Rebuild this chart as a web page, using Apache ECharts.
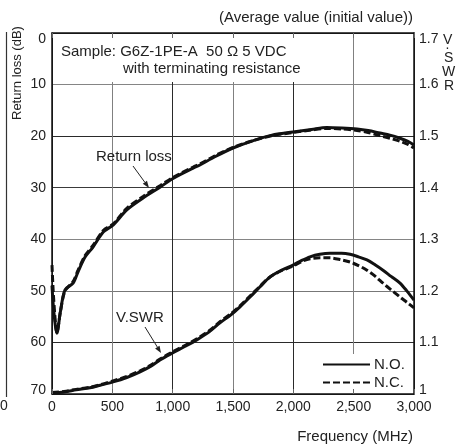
<!DOCTYPE html>
<html>
<head>
<meta charset="utf-8">
<script src="https://cdn.jsdelivr.net/npm/echarts@6/dist/echarts.min.js"></script>
<style>
html,body{margin:0;padding:0;background:#fff;}
#c{width:461px;height:444px;}
</style>
</head>
<body>
<div id="c"></div>
<script>
// ---- data ----
const freqRL = [0,15,41,70,108,175,216,273,340,425,508,620,755,895,1003,1170,1226,1350,1500,1650,1823,1997,2150,2277,2400,2528,2620,2718,2800,2884,2950,3000];
const rlNO   = [49,54,58.2,54,49.8,48.5,46.3,43.5,41.5,38.6,37.2,34.3,32,29.9,28.2,26.2,25.6,24,22.3,21,19.8,19.2,18.7,18.3,18.4,18.6,18.9,19.4,19.8,20.4,21,21.7];
const rlNC   = [45,52,58,54,50,48.2,46,43.2,41.2,38.3,37,34,31.7,29.6,28,26,25.4,23.8,22.2,21,19.9,19.3,18.8,18.5,18.6,18.9,19.3,19.9,20.4,21,21.6,22.3];

const freqVS = [0,100,200,315,400,500,620,730,820,895,1003,1100,1200,1300,1392,1480,1558,1641,1720,1807,1900,1997,2070,2138,2220,2304,2400,2470,2540,2610,2680,2743,2810,2884,2940,3000];
const vsNO   = [1.002,1.004,1.008,1.012,1.017,1.023,1.032,1.043,1.054,1.066,1.08,1.092,1.105,1.12,1.138,1.153,1.169,1.188,1.207,1.227,1.24,1.25,1.259,1.266,1.271,1.273,1.273,1.271,1.266,1.26,1.25,1.24,1.228,1.215,1.2,1.182];
const vsNC   = [1.003,1.005,1.009,1.013,1.018,1.025,1.034,1.045,1.056,1.068,1.082,1.094,1.107,1.122,1.14,1.155,1.171,1.19,1.208,1.227,1.239,1.248,1.257,1.262,1.264,1.264,1.26,1.256,1.249,1.24,1.228,1.215,1.202,1.188,1.178,1.167];

const xTicks = [0,500,1000,1500,2000,2500,3000];
const rlTicks = [0,10,20,30,40,50,60,70];
const vsTicks = [1,1.1,1.2,1.3,1.4,1.5,1.6,1.7];

const pair = (xs, ys) => xs.map((x, i) => [x, ys[i]]);

const FONT = 'Liberation Sans, Arial, Helvetica, sans-serif';
const TXT = '#222';
const GRID = '#5a5a5a';

function arrow(x1, y1, x2, y2) {
  const a = Math.atan2(y2 - y1, x2 - x1);
  const L = 7, W = 2.6;
  const bx = x2 - L * Math.cos(a), by = y2 - L * Math.sin(a);
  const px = -Math.sin(a) * W, py = Math.cos(a) * W;
  return [
    { type: 'line', z: 20, shape: { x1, y1, x2: bx, y2: by }, style: { stroke: '#222', lineWidth: 1 } },
    { type: 'polygon', z: 20, shape: { points: [[x2, y2], [bx + px, by + py], [bx - px, by - py]] }, style: { fill: '#222' } }
  ];
}

const edgeRich = {
  top: { padding: [12, 0, 0, 0], fontSize: 14, color: TXT, fontFamily: FONT },
  bot: { padding: [0, 0, 8, 0], fontSize: 14, color: TXT, fontFamily: FONT }
};

// stacked letters of the right axis title
const vswrLetters = [['V', 443, 33], ['.', 445.5, 38], ['S', 444, 51], ['W', 442, 65], ['R', 444, 79]];

const chart = echarts.init(document.getElementById('c'), null, { renderer: 'canvas' });

const baseX = { type: 'value', min: 0, max: 3000, interval: 500 };

chart.setOption({
  animation: false,
  backgroundColor: '#fff',
  textStyle: { fontFamily: FONT },
  grid: { left: 52, right: 47, top: 33, bottom: 50, containLabel: false },
  xAxis: [
    Object.assign({}, baseX, {
      position: 'bottom', z: 0,
      axisLine: { show: false }, axisTick: { show: false }, axisLabel: { show: false },
      splitLine: { show: true, lineStyle: { color: ['#2a2a2a', '#808080'], width: 1 } }
    }),
    Object.assign({}, baseX, {
      position: 'bottom', z: 10,
      axisLine: { show: true, onZero: false, lineStyle: { color: '#111', width: 1.5 } },
      axisTick: { show: true, inside: true, length: 5, lineStyle: { color: '#666', width: 1 } },
      axisLabel: { show: true, margin: 6, color: TXT, fontSize: 14, fontFamily: FONT,
        formatter: v => xTicks.indexOf(v) >= 0 ? v.toLocaleString('en-US') : '' },
      splitLine: { show: false }
    }),
    Object.assign({}, baseX, {
      position: 'top', z: 10,
      axisLine: { show: true, onZero: false, lineStyle: { color: '#111', width: 1.5 } },
      axisTick: { show: true, inside: true, length: 5, lineStyle: { color: '#666', width: 1 } },
      axisLabel: { show: false }, splitLine: { show: false }
    })
  ],
  yAxis: [
    {
      type: 'value', min: 0, max: 70, interval: 10, inverse: true, position: 'left', z: 0,
      axisLine: { show: true, onZero: false, lineStyle: { color: '#111', width: 1.5 } },
      axisTick: { show: false },
      axisLabel: { margin: 6, color: TXT, fontSize: 14, fontFamily: FONT, rich: edgeRich,
        formatter: v => {
          if (rlTicks.indexOf(v) < 0) return '';
          if (v === 0) return '{top|0}';
          if (v === 70) return '{bot|70}';
          return String(v);
        } },
      splitLine: { show: true, lineStyle: { color: ['#2a2a2a', '#858585', '#2a2a2a', '#3a3a3a', '#858585', '#777', '#2a2a2a', '#2a2a2a'], width: 1 } }
    },
    {
      type: 'value', min: 1, max: 1.7, interval: 0.1, position: 'right', z: 10,
      axisLine: { show: true, onZero: false, lineStyle: { color: '#111', width: 1.5 } },
      axisTick: { show: false },
      axisLabel: { margin: 5, color: TXT, fontSize: 14, fontFamily: FONT, rich: edgeRich,
        formatter: v => {
          const r = Math.round(v * 10) / 10;
          if (vsTicks.indexOf(r) < 0) return '';
          if (r === 1) return '{bot|1}';
          if (r === 1.7) return '{top|1.7}';
          return r.toFixed(1);
        } },
      splitLine: { show: false }
    }
  ],
  legend: {
    data: ['N.O.', 'N.C.'],
    orient: 'vertical',
    left: 318, top: 354,
    backgroundColor: '#fff',
    padding: [3, 4, 3, 4],
    itemWidth: 47, itemHeight: 14, itemGap: 3,
    itemStyle: { opacity: 0 },
    textStyle: { color: TXT, fontSize: 15, fontFamily: FONT, padding: [0, 0, 0, -1] },
    z: 4
  },
  series: [
    { name: 'N.C.', type: 'line', xAxisIndex: 0, yAxisIndex: 0, data: pair(freqRL, rlNC), showSymbol: false, symbol: 'none', smooth: 0.3,
      lineStyle: { color: '#111', width: 3, type: [7, 3] }, itemStyle: { color: '#111' }, z: 2 },
    { name: 'N.O.', type: 'line', xAxisIndex: 0, yAxisIndex: 0, data: pair(freqRL, rlNO), showSymbol: false, symbol: 'none', smooth: 0.3,
      lineStyle: { color: '#111', width: 3, type: 'solid' }, itemStyle: { color: '#111' }, z: 3 },
    { name: 'N.C.', type: 'line', xAxisIndex: 0, yAxisIndex: 1, data: pair(freqVS, vsNC), showSymbol: false, symbol: 'none', smooth: 0.3,
      lineStyle: { color: '#111', width: 3, type: [7, 3] }, itemStyle: { color: '#111' }, z: 2 },
    { name: 'N.O.', type: 'line', xAxisIndex: 0, yAxisIndex: 1, data: pair(freqVS, vsNO), showSymbol: false, symbol: 'none', smooth: 0.3,
      lineStyle: { color: '#111', width: 3, type: 'solid' }, itemStyle: { color: '#111' }, z: 3 }
  ],
  graphic: [
    // white box behind the sample note
    { type: 'rect', z: 1, shape: { x: 53.5, y: 34.5, width: 266, height: 47.5 }, style: { fill: '#fff' } },
    { type: 'text', z: 20, left: 61, top: 44, style: { text: 'Sample: G6Z-1PE-A  50 Ω 5 VDC', fill: TXT, font: '15px ' + FONT } },
    { type: 'text', z: 20, left: 123, top: 61, style: { text: 'with terminating resistance', fill: TXT, font: '15px ' + FONT } },
    { type: 'text', z: 20, right: 48, top: 10, style: { text: '(Average value (initial value))', fill: TXT, font: '15px ' + FONT } },
    { type: 'text', z: 20, x: 11, y: 120, rotation: Math.PI / 2,
      style: { text: 'Return loss (dB)', fill: TXT, font: '13px ' + FONT, textAlign: 'left', textVerticalAlign: 'top' } },
    ...vswrLetters.map(([t, x, y]) => ({ type: 'text', z: 20, x, y, style: { text: t, fill: TXT, font: '14px ' + FONT } })),
    { type: 'text', z: 20, right: 48, top: 429, style: { text: 'Frequency (MHz)', fill: TXT, font: '15px ' + FONT } },
    { type: 'text', z: 20, left: 96, top: 149, style: { text: 'Return loss', fill: TXT, font: '15px ' + FONT } },
    ...arrow(133, 166, 149, 188),
    { type: 'text', z: 20, left: 116, top: 310, style: { text: 'V.SWR', fill: TXT, font: '15px ' + FONT } },
    ...arrow(145, 327, 161, 353),
    // edge of neighbouring figure
    { type: 'line', z: 20, shape: { x1: 6.5, y1: 32, x2: 6.5, y2: 397 }, style: { stroke: '#333', lineWidth: 1.2 } },
    { type: 'text', z: 20, left: 0, top: 399, style: { text: '0', fill: TXT, font: '14px ' + FONT } }
  ]
});
</script>
</body>
</html>
